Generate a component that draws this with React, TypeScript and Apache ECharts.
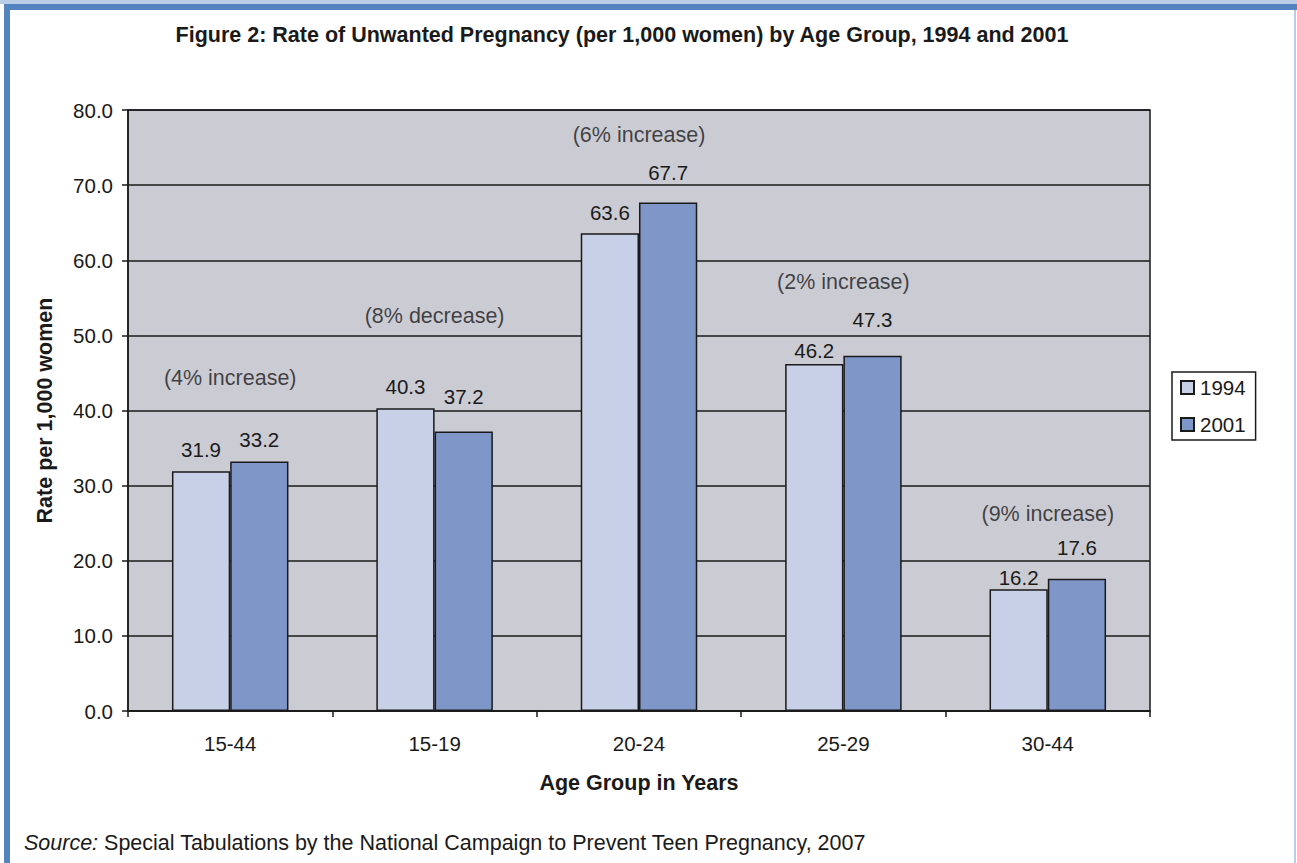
import React, { useEffect, useRef } from "react";
import * as echarts from "echarts";

const categories = ["15-44", "15-19", "20-24", "25-29", "30-44"];
const values1994 = [31.9, 40.3, 63.6, 46.2, 16.2];
const values2001 = [33.2, 37.2, 67.7, 47.3, 17.6];
const changeNotes = ["(4% increase)", "(8% decrease)", "(6% increase)", "(2% increase)", "(9% increase)"];
const noteLevels = [44.3, 52.6, 76.7, 57.1, 26.2];

// label lift above each bar (styling only, px)
const lift1994 = [11.5, 11.5, 10.5, 2.5, 1.5];
const lift2001 = [11.5, 24.5, 19.5, 25.5, 20.5];

const FONT = "'Liberation Sans', Arial, sans-serif";
const INK = "#1a1a1a";

export default function App() {
  const ref = useRef<HTMLDivElement>(null);
  useEffect(() => {
    const chart = echarts.init(ref.current!, null, { renderer: "svg" });
    const baseLabel = {
      show: true,
      position: "top" as const,
      fontFamily: FONT,
      fontSize: 20.5,
      color: INK,
      formatter: (p: any) => Number(p.value).toFixed(1),
    };
    const mk = (vals: number[], lifts: number[]) =>
      vals.map((v, i) => ({ value: v, label: { distance: lifts[i] } }));
    chart.setOption({
      animation: false,
      backgroundColor: "#ffffff",
      textStyle: { fontFamily: FONT },
      grid: { left: 128, right: 147, top: 110, bottom: 152, show: true, backgroundColor: "#cbcbd3", borderColor: INK, borderWidth: 1.5 },
      legend: {
        data: ["1994", "2001"],
        orient: "vertical",
        left: 1172,
        top: 372,
        padding: [5, 10, 5, 8],
        icon: "rect",
        itemWidth: 13,
        itemHeight: 13,
        itemGap: 16,
        backgroundColor: "#ffffff",
        borderColor: INK,
        borderWidth: 1.5,
        textStyle: { fontFamily: FONT, fontSize: 20.5, color: INK, padding: [0, 0, 0, 1] },
      },
      xAxis: {
        type: "category",
        data: categories,
        name: "Age Group in Years",
        nameLocation: "middle",
        nameGap: 61,
        nameTextStyle: { fontFamily: FONT, fontSize: 21.5, fontWeight: "bold", color: INK },
        axisLine: { lineStyle: { color: INK, width: 1.5 } },
        axisTick: { show: true, length: 6, alignWithLabel: false, lineStyle: { color: INK, width: 1.5 } },
        axisLabel: { fontFamily: FONT, fontSize: 20.5, color: INK, margin: 22 },
      },
      yAxis: {
        type: "value",
        min: 0,
        max: 80,
        interval: 10,
        name: "Rate per 1,000 women",
        nameLocation: "middle",
        nameGap: 72,
        nameRotate: 90,
        nameTextStyle: { fontFamily: FONT, fontSize: 21.5, fontWeight: "bold", color: INK },
        axisLine: { show: true, lineStyle: { color: INK, width: 1.5 } },
        axisTick: { show: true, length: 6, lineStyle: { color: INK, width: 1.5 } },
        axisLabel: { fontFamily: FONT, fontSize: 20.5, color: INK, margin: 15, formatter: (v: number) => v.toFixed(1) },
        splitLine: { show: true, lineStyle: { color: INK, width: 1.5 } },
      },
      series: [
        {
          name: "1994",
          type: "bar",
          data: mk(values1994, lift1994),
          barGap: "0%",
          barCategoryGap: "43%",
          itemStyle: { color: "#c8d0e8", borderColor: INK, borderWidth: 1.5 },
          label: baseLabel,
        },
        {
          name: "2001",
          type: "bar",
          data: mk(values2001, lift2001),
          barGap: "0%",
          barCategoryGap: "43%",
          itemStyle: { color: "#7f96c8", borderColor: INK, borderWidth: 1.5 },
          label: baseLabel,
        },
        {
          name: "notes",
          type: "scatter",
          symbolSize: 1,
          itemStyle: { color: "transparent" },
          silent: true,
          data: categories.map((c, i) => [c, noteLevels[i]]),
          label: {
            show: true,
            position: "inside",
            fontFamily: FONT,
            fontSize: 21.5,
            color: INK,
            formatter: (p: any) => changeNotes[p.dataIndex],
          },
        },
      ],
      graphic: [
        { type: "rect", shape: { x: 0, y: 0, width: 1297, height: 4 }, style: { fill: "#b9cde6" }, silent: true },
        { type: "rect", shape: { x: 4, y: 4, width: 1293, height: 6 }, style: { fill: "#5384c0" }, silent: true },
        { type: "rect", shape: { x: 4, y: 4, width: 6, height: 859 }, style: { fill: "#5384c0" }, silent: true },
        { type: "rect", shape: { x: 1294, y: 10, width: 2, height: 853 }, style: { fill: "#b9cde6" }, silent: true },
        {
          type: "text",
          x: 622,
          y: 35,
          style: {
            text: "Figure 2: Rate of Unwanted Pregnancy (per 1,000 women) by Age Group, 1994 and 2001",
            fontFamily: FONT,
            fontSize: 21.5,
            fontWeight: "bold",
            fill: INK,
            textAlign: "center",
            textVerticalAlign: "middle",
          },
        },
        {
          type: "text",
          x: 24,
          y: 843,
          style: {
            text: "{i|Source:} Special Tabulations by the National Campaign to Prevent Teen Pregnancy, 2007",
            fontFamily: FONT,
            fontSize: 21.5,
            fill: INK,
            textVerticalAlign: "middle",
            rich: { i: { fontStyle: "italic", fontFamily: FONT, fontSize: 21.5, fill: INK } },
          },
        },
      ],
    });
    return () => chart.dispose();
  }, []);
  return <div ref={ref} style={{ position: "fixed", left: 0, top: 0, width: 1297, height: 863 }} />;
}
